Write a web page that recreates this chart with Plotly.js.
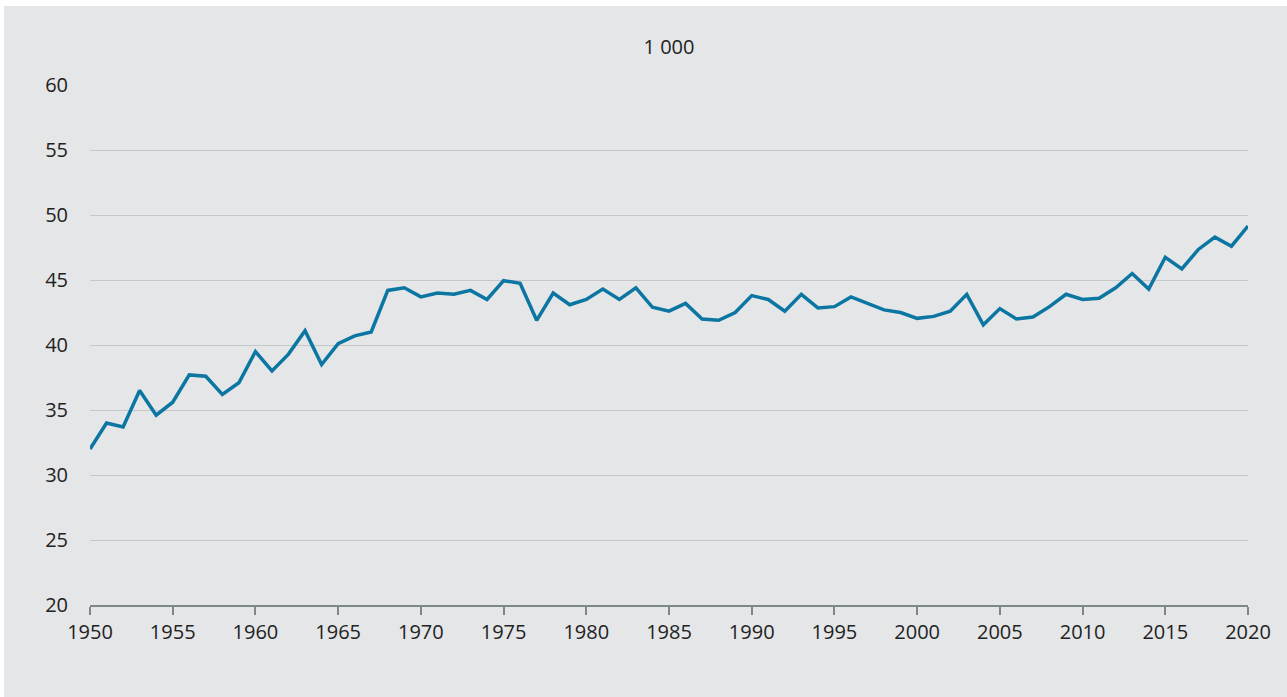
<!DOCTYPE html>
<html>
<head>
<meta charset="utf-8">
<script src="https://cdn.plot.ly/plotly-3.0.1.min.js"></script>
<style>
  html, body { margin: 0; padding: 0; background: #ffffff; }
  #chart { position: absolute; left: 4px; top: 6px; width: 1283px; height: 691px; }
</style>
</head>
<body>
<div id="chart"></div>
<script>
const years = [];
for (let y = 1950; y <= 2020; y++) years.push(y);

const values = [
  32.0, 34.0, 33.7, 36.5, 34.6, 35.6, 37.7, 37.6, 36.2, 37.1,
  39.5, 38.0, 39.3, 41.1, 38.5, 40.1, 40.7, 41.0, 44.2, 44.4,
  43.7, 44.0, 43.9, 44.2, 43.5, 44.95, 44.75, 41.9, 44.0, 43.1,
  43.5, 44.3, 43.5, 44.4, 42.9, 42.6, 43.2, 42.0, 41.9, 42.5,
  43.8, 43.5, 42.6, 43.9, 42.85, 42.95, 43.7, 43.2, 42.7, 42.5,
  42.05, 42.2, 42.6, 43.9, 41.55, 42.8, 42.0, 42.15, 42.95, 43.9,
  43.5, 43.6, 44.4, 45.5, 44.3, 46.75, 45.85, 47.35, 48.3, 47.6,
  49.15
];

const xTicks = [1950, 1955, 1960, 1965, 1970, 1975, 1980, 1985, 1990, 1995, 2000, 2005, 2010, 2015, 2020];
const yTicks = [20, 25, 30, 35, 40, 45, 50, 55, 60];
const titleText = '1 000';

const fontFam = '"Open Sans", "Noto Sans", sans-serif';

Plotly.newPlot('chart', [{
  x: years,
  y: values,
  type: 'scatter',
  mode: 'lines',
  line: { color: '#0b76a2', width: 3.5 },
  hoverinfo: 'x+y'
}], {
  width: 1283,
  height: 691,
  paper_bgcolor: '#e5e6e8',
  plot_bgcolor: '#e5e6e8',
  margin: { l: 86, r: 39, t: 79, b: 92 },
  showlegend: false,
  title: {
    text: titleText,
    x: 0.5, xref: 'paper', xanchor: 'center',
    y: 1, yref: 'paper', yanchor: 'bottom',
    pad: { b: 31 },
    font: { family: fontFam, size: 20, color: '#222222' }
  },
  xaxis: {
    range: [1950, 2020],
    tickvals: xTicks,
    ticktext: xTicks.map(String),
    showgrid: false,
    zeroline: false,
    showline: true,
    linecolor: '#7d8789',
    linewidth: 1.5,
    ticks: 'outside',
    ticklen: 8,
    tickwidth: 1.5,
    tickcolor: '#7d8789',
    tickfont: { family: fontFam, size: 20, color: '#222222' },
    fixedrange: true
  },
  yaxis: {
    range: [20, 60],
    tickvals: yTicks,
    ticktext: yTicks.map(String),
    showgrid: true,
    gridcolor: '#c6c7c9',
    gridwidth: 1,
    zeroline: false,
    showline: false,
    ticks: '',
    ticklabelstandoff: 21,
    tickfont: { family: fontFam, size: 20, color: '#222222' },
    fixedrange: true
  }
}, { displayModeBar: false, staticPlot: false });
</script>
</body>
</html>
